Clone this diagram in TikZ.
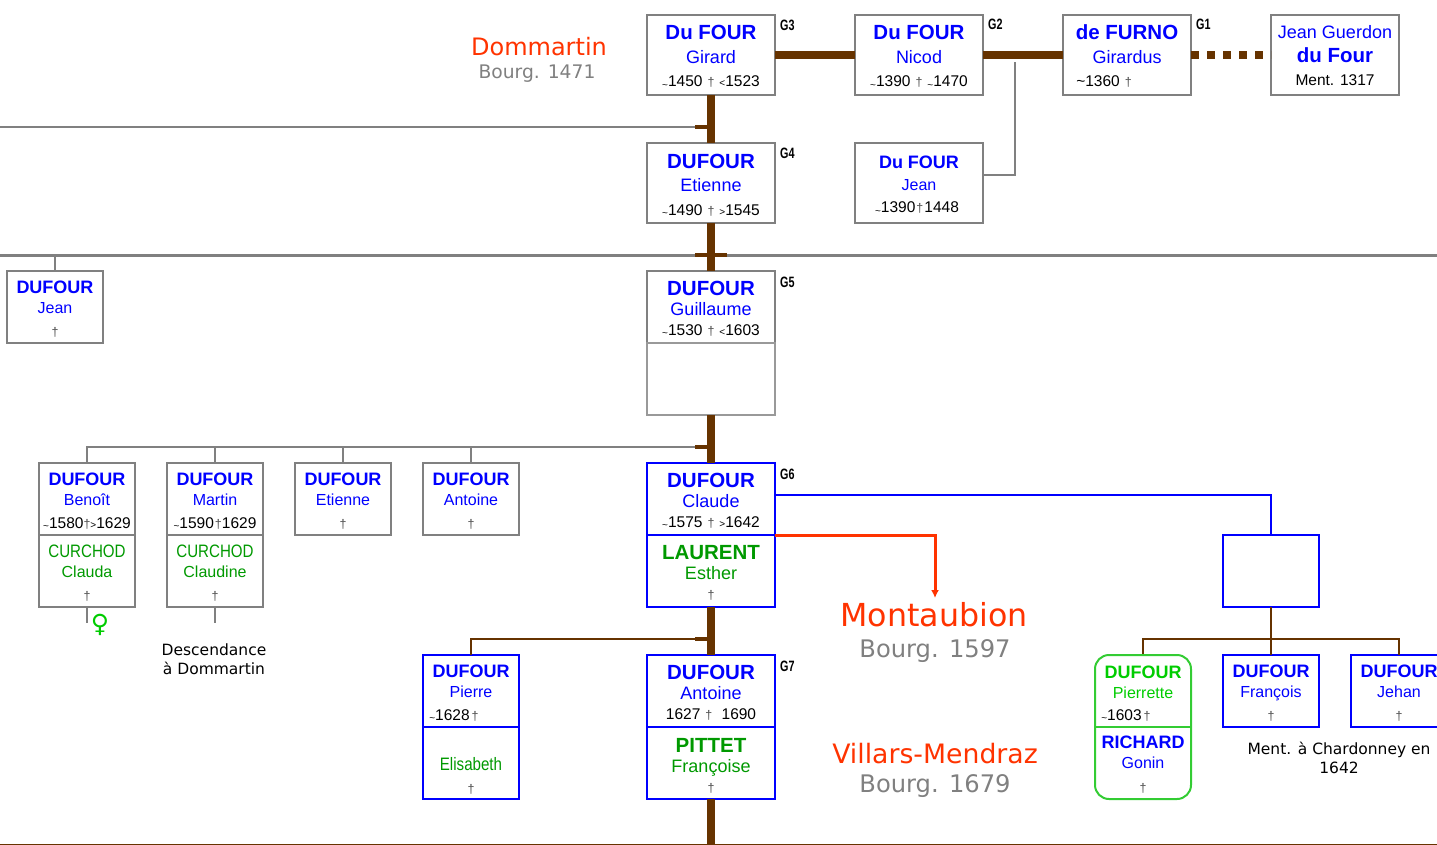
\documentclass[tikz,border=0pt]{standalone}
\usepackage{fontspec}
\setmainfont{Liberation Sans}
\newfontfamily\verda{DejaVu Sans}
\newfontfamily\etroit[FakeStretch=0.84]{Liberation Sans}
\newfontfamily\genfont[FakeStretch=0.72]{Liberation Sans}
\usetikzlibrary{positioning,arrows.meta}

\definecolor{brun}{HTML}{663300}
\definecolor{gris}{HTML}{808080}
\definecolor{grisclair}{HTML}{999999}
\definecolor{bleu}{HTML}{0000FF}
\definecolor{vert}{HTML}{009900}
\definecolor{vertvif}{HTML}{00CC00}
\definecolor{vertbord}{HTML}{33CC33}
\definecolor{rouge}{HTML}{FF3300}

\newcommand{\nomg}[1]{{\fontsize{20.5}{20}\selectfont\bfseries #1}}
\newcommand{\nomp}[1]{{\fontsize{18}{20}\selectfont\bfseries #1}}
\newcommand{\prenomg}[1]{{\fontsize{18}{20}\selectfont #1}}
\newcommand{\prenomp}[1]{{\fontsize{16}{20}\selectfont #1}}
\newcommand{\dates}[1]{{\fontsize{15.5}{20}\selectfont\color{black}#1}}
\newcommand{\petit}[1]{{\fontsize{10}{10}\selectfont #1}}
\newcommand{\envi}{\raisebox{-1.5pt}{\petit{\textasciitilde}}}
\newcommand{\croix}{{\fontsize{12.5}{10}\selectfont\color{black!70}†}}
\newcommand{\blanc}{\hspace{5pt}}

\tikzset{
	personne/.style={draw=gris,line width=2pt,fill=white,text=bleu,align=center,inner sep=0pt,outer sep=0pt},
	grandbox/.style={personne,minimum width=128pt,text height=72pt,text depth=8pt,font=\fontsize{12}{23.5}\selectfont},
	moyenbox/.style={personne,minimum width=128pt,text height=64pt,text depth=8pt,font=\fontsize{12}{20}\selectfont},
	petitbox/.style={personne,minimum width=96pt,text height=65pt,text depth=7pt,font=\fontsize{12}{20}\selectfont},
	lignee/.style={draw=bleu},
	conjoint/.style={text=vert},
	trunk/.style={draw=brun,line width=8pt},
	stub/.style={draw=brun,line width=4pt},
	filet/.style={draw=gris,line width=2pt},
	brunfilet/.style={draw=brun,line width=2pt},
	lieu/.style={align=center,inner sep=0pt,anchor=base,text=rouge},
	bourg/.style={align=center,inner sep=0pt,anchor=base,text=gris},
	note/.style={align=center,inner sep=0pt,anchor=base,font=\verda\fontsize{15.5}{19}\selectfont},
	gen/.style={inner sep=0pt,anchor=base west,font=\genfont\bfseries\fontsize{15}{15}\selectfont}
}

\begin{document}
\begin{tikzpicture}[x=1pt,y=-1pt]
	\useasboundingbox (0,0) rectangle (1437,845);

	\node [grandbox] (girard) at (711,55) {\nomg{Du FOUR}\\\prenomg{Girard}\\\dates{\envi1450\blanc\croix\blanc\petit{<}1523}};
	\node [grandbox] (nicod) at (919,55) {\nomg{Du FOUR}\\\prenomg{Nicod}\\\dates{\envi1390\blanc\croix\blanc\envi1470}};
	\node [grandbox] (girardus) at (1127,55) {\nomg{de FURNO}\\\prenomg{Girardus}\\\dates{\textasciitilde1360\blanc\croix\hspace{46pt}}};
	\node [grandbox,line width=1.2pt,text height=71pt,text depth=9pt] (guerdon) at (1335,55) {\prenomg{Jean Guerdon}\\\nomg{du Four}\\\dates{Ment. 1317}};
	\node [grandbox] (etienne) at (711,183) {\nomg{DUFOUR}\\\prenomg{Etienne}\\\dates{\envi1490\blanc\croix\blanc\petit{>}1545}};
	\node [grandbox,font=\fontsize{12}{21.5}\selectfont,text height=70pt,text depth=10pt] (jean) at (919,183) {\nomp{Du FOUR}\\\prenomp{Jean}\\[1.5pt]\dates{\envi1390\hspace{1pt}\croix\hspace{1pt}1448\hspace{4pt}}};

	\node [moyenbox] (guillaume) at (711,307) {\nomg{DUFOUR}\\\prenomg{Guillaume}\\\dates{\envi1530\blanc\croix\blanc\petit{<}1603}};
	\node [moyenbox,draw=grisclair,line width=1.5pt,below=0pt of guillaume] (guillaumef) {};
	\node [petitbox] (jeang) at (55,307) {\nomp{DUFOUR}\\\prenomp{Jean}\\[3pt]\croix\hspace{5pt}};

	\node [petitbox] (benoit) at (87,499) {\nomp{DUFOUR}\\\prenomp{Benoît}\\[3pt]\dates{\envi1580\croix\petit{>}1629}};
	\node [petitbox,conjoint,below=0pt of benoit] (clauda) {{\etroit\fontsize{18}{20}\selectfont CURCHOD}\\\prenomp{Clauda}\\[3pt]\croix};
	\node [petitbox] (martin) at (215,499) {\nomp{DUFOUR}\\\prenomp{Martin}\\[3pt]\dates{\envi1590\hspace{1pt}\croix1629}};
	\node [petitbox,conjoint,below=0pt of martin] (claudine) {{\etroit\fontsize{18}{20}\selectfont CURCHOD}\\\prenomp{Claudine}\\[3pt]\croix};
	\node [petitbox] (etienneb) at (343,499) {\nomp{DUFOUR}\\\prenomp{Etienne}\\[3pt]\croix\hspace{4pt}};
	\node [petitbox] (antoineb) at (471,499) {\nomp{DUFOUR}\\\prenomp{Antoine}\\[3pt]\croix\hspace{4pt}};

	\node [moyenbox,lignee,line width=2.5pt] (claude) at (711,499) {\nomg{DUFOUR}\\\prenomg{Claude}\\\dates{\envi1575\blanc\croix\blanc\petit{>}1642}};
	\node [moyenbox,lignee,conjoint,line width=2.5pt,below=0pt of claude] (esther) {\nomg{LAURENT}\\\prenomg{Esther}\\\croix};
	\node [moyenbox,lignee,minimum width=96pt] (vide) at (1271,571) {};

	\node [petitbox,lignee] (pierre) at (471,691) {\nomp{DUFOUR}\\\prenomp{Pierre}\\[3pt]\dates{\envi1628\hspace{2pt}\croix\hspace{34pt}}};
	\node [petitbox,lignee,conjoint,below=0pt of pierre,text height=66pt,text depth=6pt] (elisabeth) {{\etroit\fontsize{18}{20}\selectfont Elisabeth}\\[3pt]\croix};
	\node [moyenbox,lignee] (antoine) at (711,691) {\nomg{DUFOUR}\\\prenomg{Antoine}\\\dates{1627\blanc\croix\blanc\ 1690}};
	\node [moyenbox,lignee,conjoint,below=0pt of antoine,text height=65pt,text depth=7pt] (francoise) {\nomg{PITTET}\\\prenomg{Françoise}\\\croix};

	\node [petitbox,draw=none,fill=none,text=vertvif] (pierrette) at (1143,691) {\nomp{DUFOUR}\\\prenomp{Pierrette}\\[2pt]\dates{\envi1603\hspace{2pt}\croix\hspace{34pt}}};
	\node [petitbox,draw=none,fill=none,below=0pt of pierrette] (richard) {\nomp{RICHARD}\\\prenomp{Gonin}\\[4pt]\croix};
	\node [petitbox,lignee] (francois) at (1271,691) {\nomp{DUFOUR}\\\prenomp{François}\\[3pt]\croix\hspace{4pt}};
	\node [petitbox,lignee] (jehan) at (1399,691) {\nomp{DUFOUR}\\\prenomp{Jehan}\\[3pt]\croix\hspace{2pt}};

	\node [gen] (g3) at (780,31) {G3};
	\node [gen] (g2) at (988,30) {G2};
	\node [gen] (g1) at (1196,30) {G1};
	\node [gen] (g4) at (780,159) {G4};
	\node [gen] (g5) at (780,287) {G5};
	\node [gen] (g6) at (780,479) {G6};
	\node [gen] (g7) at (780,671) {G7};

	\node [lieu,font=\verda\fontsize{24}{24}\selectfont] (dommartin) at (539,56) {Dommartin};
	\node [bourg,font=\verda\fontsize{18.7}{24}\selectfont] (bourga) at (537,79) {Bourg. 1471};
	\node [lieu,font=\verda\fontsize{31.7}{24}\selectfont] (montaubion) at (934,626) {Montaubion};
	\node [bourg,font=\verda\fontsize{24.2}{24}\selectfont] (bourgb) at (935,657) {Bourg. 1597};
	\node [lieu,font=\verda\fontsize{26.7}{24}\selectfont] (villars) at (935,763) {Villars-Mendraz};
	\node [bourg,font=\verda\fontsize{24.2}{24}\selectfont] (bourgc) at (935,792) {Bourg. 1679};
	\node [note] (descendance) at (214,674) {Descendance\\à Dommartin};
	\node [note] (chardonney) at (1339,773) {Ment. à Chardonney en\\1642};
	\node [inner sep=0pt,text=vertvif,font=\fontsize{25}{25}\selectfont\verda\bfseries] (venus) at (100,625) {♀};

	\coordinate (bas) at (711,844);
	\coordinate (t1) at (711,127);
	\coordinate (a1) at (695,127);
	\coordinate (o1) at (0,127);
	\coordinate (o2) at (0,255);
	\coordinate (e2) at (1437,255);
	\coordinate (a2) at (695,255);
	\coordinate (b2) at (727,255);
	\coordinate (t3) at (711,447);
	\coordinate (a3) at (695,447);
	\coordinate (t4) at (711,639);
	\coordinate (a4) at (695,639);
	\coordinate (l4) at (1271,639);
	\coordinate (j2) at (1015,62);
	\coordinate (c1) at (87,623);
	\coordinate (c2) at (215,623);
	\coordinate (fl) at (935,598);
	\coordinate (o5) at (0,844);
	\coordinate (e5) at (1437,844);

	\draw [trunk] (girard) -- (nicod);
	\draw [trunk] (nicod) -- (girardus);
	\draw [trunk,dash pattern=on 8pt off 8pt] (girardus) -- (guerdon);
	\draw [trunk] (girard) -- (etienne);
	\draw [trunk] (etienne) -- (guillaume);
	\draw [trunk] (guillaumef) -- (claude);
	\draw [trunk] (esther) -- (antoine);
	\draw [trunk] (francoise) -- (bas);

	\draw [filet] (o1) -- (a1);
	\draw [stub] (a1) -- (t1);
	\draw [filet,line width=3pt] (o2) -- (e2);
	\draw [stub] (a2) -- (b2);
	\draw [filet] (jeang) -- (jeang |- o2);
	\draw [filet] (benoit) |- (a3);
	\foreach \enfant in {martin,etienneb,antoineb}
		\draw [filet] (\enfant) -- (\enfant |- a3);
	\draw [stub] (a3) -- (t3);
	\draw [filet] (clauda) -- (c1);
	\draw [filet] (claudine) -- (c2);
	\draw [filet] ([yshift=8pt]jean.east) -| (j2);

	\draw [draw=bleu,line width=2pt] ([yshift=4pt]claude.east) -| (vide);
	\draw [draw=rouge,line width=3pt,-{Latex[length=8pt,width=8pt]}] (claude.south east) -| (fl);

	\draw [brunfilet] (pierre) |- (a4);
	\draw [stub] (a4) -- (t4);
	\draw [brunfilet] (vide) -- (francois);
	\draw [brunfilet] (pierrette) |- (l4);
	\draw [brunfilet] (jehan) |- (l4);
	\draw [draw=brun,line width=1pt] (o5) -- (e5);

	\draw [draw=vertbord,line width=2pt,rounded corners=14pt] (pierrette.north west) rectangle (richard.south east);
	\draw [draw=vertbord,line width=2pt] (pierrette.south west) -- (pierrette.south east);
\end{tikzpicture}
\end{document}
